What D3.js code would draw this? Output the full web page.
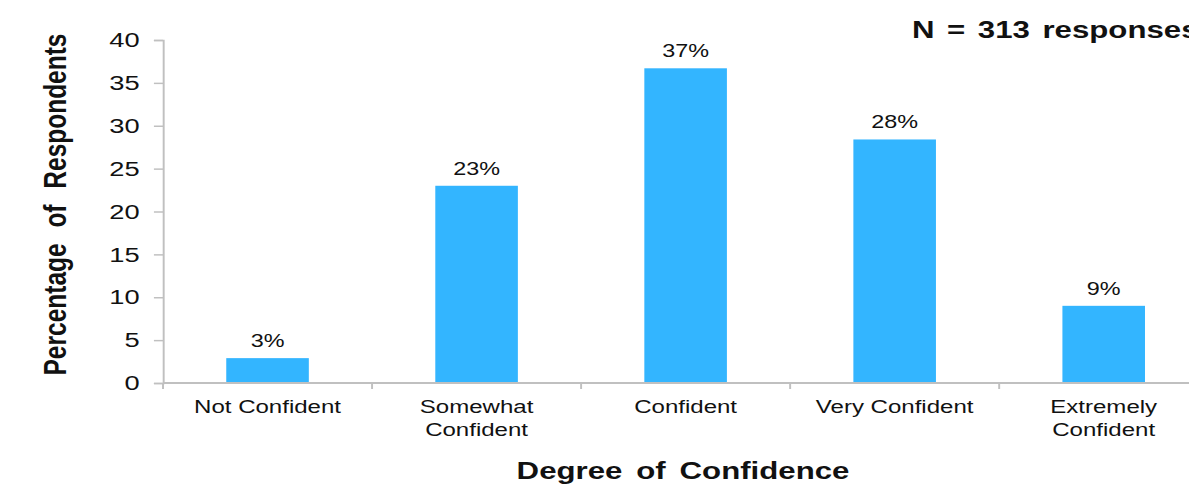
<!DOCTYPE html>
<html>
<head>
<meta charset="utf-8">
<script src="https://cdn.jsdelivr.net/npm/d3@7"></script>
<style>
  html, body { margin: 0; padding: 0; background: #fff; overflow: hidden; }
  svg { display: block; }
  text { font-family: "Liberation Sans", Arial, sans-serif; fill: #111; }
</style>
</head>
<body>
<svg id="chart"></svg>
<script>
// Survey: degree of confidence (percentage of respondents)
const categories = [
  ["Not Confident"],
  ["Somewhat", "Confident"],
  ["Confident"],
  ["Very Confident"],
  ["Extremely", "Confident"]
];
const percentages = [2.9, 23.0, 36.7, 28.4, 9.0];
const yTicks = [0, 5, 10, 15, 20, 25, 30, 35, 40];
const yTitle = "Percentage of Respondents";
const xTitle = "Degree of Confidence";
const note = "N = 313 responses";

(function () {
  // The chart is laid out in a narrower coordinate space and stretched
  // horizontally to fill the page width.
  const outW = 1189, outH = 488, stretch = 1.3;
  const W = outW / stretch, H = outH;

  const svg = d3.select("#chart")
    .attr("width", outW).attr("height", outH)
    .attr("viewBox", `0 0 ${W} ${H}`)
    .attr("preserveAspectRatio", "none");

  const plotLeft = 125.4, plotTop = 40, plotBottom = 383;
  const step = 160.8;
  const keys = categories.map((c, i) => i);

  const x = d3.scaleBand().domain(keys).range([plotLeft, plotLeft + step * keys.length]).padding(0);
  const y = d3.scaleLinear().domain([0, 40]).range([plotBottom, plotTop]);

  const axisColor = "#c0c0c0";

  // Bars
  const barW = x.bandwidth() * 0.395;
  svg.append("g").selectAll("rect").data(percentages).join("rect")
    .attr("x", (d, i) => x(i) + (x.bandwidth() - barW) / 2)
    .attr("y", d => y(d))
    .attr("width", barW)
    .attr("height", d => y(0) - y(d))
    .attr("fill", "#33b5ff");

  // Value labels
  svg.append("g").selectAll("text").data(percentages).join("text")
    .attr("x", (d, i) => x(i) + x.bandwidth() / 2)
    .attr("y", d => y(d) - 11)
    .attr("text-anchor", "middle")
    .style("font-size", "18px")
    .text(d => Math.round(d) + "%");

  // Y axis
  const yAxis = svg.append("g")
    .attr("transform", `translate(${plotLeft},0)`)
    .call(d3.axisLeft(y).tickValues(yTicks).tickSize(7).tickPadding(11));
  yAxis.select(".domain").attr("stroke", axisColor).attr("stroke-width", 1.5);
  yAxis.selectAll(".tick line").attr("stroke", axisColor).attr("stroke-width", 1.5);
  yAxis.selectAll(".tick text")
    .attr("fill", "#111")
    .style("font-size", "21px")
    .style("font-family", "'Liberation Sans', Arial, sans-serif");

  // X axis: ticks at category boundaries
  const xAxis = svg.append("g")
    .attr("transform", `translate(0,${plotBottom})`);
  xAxis.append("line")
    .attr("x1", plotLeft).attr("x2", x.range()[1])
    .attr("y1", 0).attr("y2", 0)
    .attr("stroke", axisColor).attr("stroke-width", 2);
  xAxis.selectAll("line.tk").data(keys.concat([keys.length])).join("line")
    .attr("class", "tk")
    .attr("x1", i => plotLeft + step * i).attr("x2", i => plotLeft + step * i)
    .attr("y1", 0).attr("y2", 6)
    .attr("stroke", axisColor).attr("stroke-width", 1.5);

  // Category labels
  const catG = svg.append("g");
  categories.forEach((lines, i) => {
    const cx = x(i) + x.bandwidth() / 2;
    const t = catG.append("text")
      .attr("x", cx)
      .attr("y", plotBottom + 30)
      .attr("text-anchor", "middle")
      .style("font-size", "18.5px");
    lines.forEach((ln, j) => {
      t.append("tspan")
        .attr("x", cx)
        .attr("dy", j === 0 ? 0 : 23)
        .text(ln);
    });
  });

  // Axis titles
  svg.append("text")
    .attr("transform", `translate(${66 / stretch},${(plotTop + plotBottom) / 2 - 7}) rotate(-90)`)
    .attr("text-anchor", "middle")
    .style("font-size", "24.5px")
    .style("font-weight", "bold")
    .style("word-spacing", "9px")
    .text(yTitle);

  svg.append("text")
    .attr("x", x(2) + x.bandwidth() / 2 - 2)
    .attr("y", 479)
    .attr("text-anchor", "middle")
    .style("font-size", "24px")
    .style("font-weight", "bold")
    .style("word-spacing", "4px")
    .text(xTitle);

  // Sample size note
  svg.append("text")
    .attr("x", 912 / stretch)
    .attr("y", 38)
    .style("font-size", "24px")
    .style("font-weight", "bold")
    .style("word-spacing", "3px")
    .text(note);
})();
</script>
</body>
</html>
